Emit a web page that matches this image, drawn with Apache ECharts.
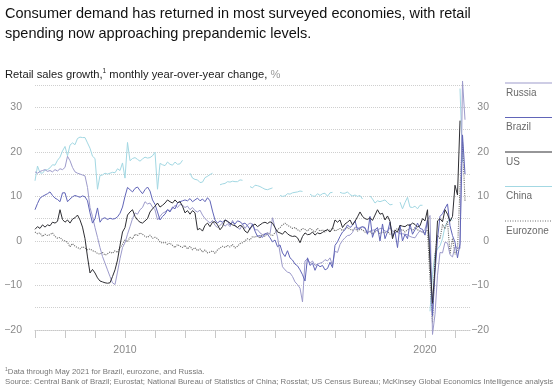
<!DOCTYPE html>
<html>
<head>
<meta charset="utf-8">
<script src="https://cdn.jsdelivr.net/npm/echarts@6/dist/echarts.min.js"></script>
<style>
  html, body { margin: 0; padding: 0; background: #fff; }
  #chart { width: 560px; height: 392px; }
</style>
</head>
<body>
<div id="chart"></div>
<script>
// ---- Data (monthly, starting Jan 2007) ----
const startYear = 2007;
const yearTicks = [2007, 2008, 2009, 2010, 2011, 2012, 2013, 2014, 2015, 2016, 2017, 2018, 2019, 2020, 2021];
const yearLabels = [2010, 2020];
const valueLabels = [-20, -10, 0, 10, 20, 30];

const seriesNames = ['Russia', 'Brazil', 'US', 'China', 'Eurozone'];

const russia = [
  15.5, 15.2, 15.6, 15.8, 16.0, 15.6, 15.8, 15.5, 16.0, 15.7, 16.2, 16.0,
  16.5, 19.0, 18.0, 16.5, 15.5, 15.2, 15.0, 14.8, 14.6, 12.0, 7.5, 5.5,
  3.0, 0.8, -1.5, -3.5, -5.0, -6.5, -8.0, -9.4, -9.8, -7.0, -4.0, -1.5,
  -0.4, 1.5, 3.2, 5.0, 6.3, 6.0, 7.0, 7.5, 8.8, 8.3, 8.5, 7.6,
  7.0, 4.7, 5.5, 6.2, 6.5, 7.0, 6.8, 7.2, 8.0, 7.5, 8.2, 8.0,
  7.5, 7.8, 7.0, 7.5, 6.8, 6.5, 6.9, 5.8, 5.0, 4.5, 4.0, 4.6,
  3.5, 3.0, 3.5, 4.0, 3.3, 3.8, 3.2, 4.6, 3.5, 3.0, 2.6, 3.8,
  2.8, 3.6, 4.0, 3.8, 2.5, 2.5, 1.8, 1.4, 1.6, 1.8, 1.6, 5.2,
  3.0, 0.9, -2.7, -5.8, -6.5, -7.0, -7.2, -8.0, -9.2, -9.8, -10.6, -13.7,
  -4.5, -4.0, -5.0, -4.5, -5.5, -5.2, -5.0, -4.8, -4.2, -4.5, -3.8, -5.5,
  -2.3, -2.6, -0.8, 0.1, 0.7, 1.2, 1.3, 1.9, 3.1, 3.0, 2.7, 3.1,
  2.8, 1.8, 2.2, 2.4, 2.5, 2.3, 2.8, 2.8, 2.2, 2.1, 3.0, 2.3,
  1.9, 2.0, 1.6, 1.6, 1.5, 1.4, 1.0, 0.8, 0.7, 1.6, 2.3, 1.9,
  2.6, 4.7, 5.7, -21.0, -16.5, -7.7, -2.6, -2.7, -0.3, -0.5, -3.1, -3.6,
  -1.3, -1.5, -1.7, 35.9, 27.2
];

const brazil = [
  7.0, 8.4, 9.6, 10.0, 10.3, 10.6, 11.0, 10.2, 9.6, 9.3, 8.8, 10.8,
  10.8, 8.8, 9.4, 9.9, 10.2, 10.0, 9.8, 10.1, 9.9, 9.0, 6.3, 4.0,
  5.0, 7.4, 4.2, 5.0, 5.2, 4.8, 5.1, 4.9, 5.0, 5.4, 6.2, 7.6,
  10.0, 12.0, 11.5, 11.0, 11.8, 12.1, 11.3, 10.6, 11.5, 12.1, 11.2, 9.2,
  8.2, 6.5, 4.7, 5.5, 6.0, 7.0, 6.5, 7.6, 7.2, 8.5, 8.8, 9.0,
  9.2, 9.0, 9.5, 8.8, 9.2, 9.6, 9.0, 9.4, 8.8, 9.7, 9.0, 6.7,
  4.7, 4.0, 4.5, 4.2, 4.7, 4.4, 3.6, 4.2, 3.8, 4.5, 4.3, 3.8,
  4.0, 3.4, 2.6, 3.8, 2.2, 1.0, 1.2, 0.8, 1.6, 1.5, 0.7, -0.2,
  0.2, -1.3, -0.9, -2.7, -3.5, -2.2, -3.8, -4.3, -5.2, -5.6, -6.5, -7.6,
  -9.0, -3.8, -5.5, -5.0, -6.6, -5.3, -5.8, -5.5, -6.5, -6.2, -4.8, -6.0,
  -1.0, -0.2, 1.0, 2.0, 2.5, 3.6, 3.0, 3.5, 4.5, 2.5, 3.0, 3.2,
  3.0, 1.5, 5.5, 0.8, 2.5, 3.0, 0.0, 3.8, 0.5, 2.0, 4.2, 1.0,
  2.0, -1.5, 3.5, 0.0, 1.5, 0.5, 3.8, 1.5, 2.5, 4.0, 2.8, 2.6,
  1.3, 4.7, -1.2, -16.8, -7.2, 0.5, 5.5, 6.1, 7.3, 8.3, 3.4, 1.2,
  -0.3, -3.8, -0.6, 23.8, 15.0
];

const us = [
  2.6, 3.2, 2.8, 3.6, 3.1, 3.6, 3.4, 4.2, 4.0, 4.4, 7.0, 4.8,
  4.2, 4.7, 4.0, 4.9, 5.2, 5.8, 4.7, 3.1, 0.5, -3.6, -7.2, -6.4,
  -7.2, -8.3, -9.0, -9.2, -9.4, -9.5, -9.4, -8.0, -6.5, -4.3, -1.0, 2.0,
  3.0, 5.8, 6.5, 7.0, 5.5, 4.7, 4.2, 4.0, 4.5, 5.0, 6.5, 7.2,
  7.8, 8.5, 7.6, 8.0, 8.5, 9.2, 8.8, 8.5, 9.2, 8.6, 8.8, 7.8,
  6.3, 6.8, 6.0, 6.8, 6.3, 2.5, 2.8, 2.2, 3.5, 4.0, 3.2, 4.2,
  4.3, 3.6, 2.5, 3.2, 4.7, 4.4, 4.0, 3.6, 3.4, 3.0, 3.5, 3.2,
  2.2, 1.8, 2.8, 3.4, 3.8, 3.2, 3.6, 4.0, 4.2, 3.9, 4.3, 4.0,
  3.0, 2.0, 1.8, 1.5, 2.2, 1.6, 1.2, 1.0, 1.1, 0.7, -0.4, 1.0,
  1.8, 1.4, 1.5, 2.0, 1.3, 1.8, 1.6, 1.9, 2.3, 2.5, 2.0, 2.8,
  4.7, 4.2, 4.7, 3.0, 3.8, 4.2, 4.7, 3.6, 4.4, 5.4, 6.5, 5.5,
  5.0, 4.8, 5.2, 4.6, 5.8, 7.0, 6.0, 6.2, 4.7, 5.6, 4.4, 0.5,
  2.4, 2.0, 3.5, 3.3, 3.2, 3.6, 3.5, 4.0, 3.7, 3.1, 3.4, 5.0,
  4.5, 7.0, -5.0, -14.0, -6.0, 4.5, 5.0, 4.3, 7.0, 6.0, 4.4, 5.5,
  12.5, 10.3, 27.0
];

const china = [
  13.5, 16.8, 15.3, 15.2, 15.9, 16.0, 16.4, 17.1, 17.0, 18.1, 18.8, 20.2,
  21.2, 19.1, 21.5, 22.0, 21.6, 23.0, 23.3, 23.2, 23.2, 22.0, 20.8, 19.0,
  18.5, 11.6, 14.7, 14.8, 15.2, 15.0, 15.2, 15.4, 15.3, 16.2, 15.8, 17.5,
  14.1, 22.1, 18.0, 18.5, 18.7, 18.3, 17.9, 18.4, 18.8, 18.6, 18.7, 19.1,
  19.9, 11.6, 17.4, 17.1, 16.9, 17.7, 17.2, 17.0, 17.7, 17.2, 17.3, 18.1,
  null, null, 15.2, 14.1, 13.8, 13.7, 13.1, 13.2, 14.2, 14.5, 14.9, 15.2,
  null, null, 12.6, 12.8, 12.9, 13.3, 13.2, 13.4, 13.3, 13.3, 13.7, 13.6,
  null, null, 12.2, 11.9, 12.5, 12.4, 12.2, 11.9, 11.6, 11.5, 11.7, 11.9,
  null, null, 10.2, 10.0, 10.1, 10.6, 10.5, 10.8, 10.9, 11.0, 11.2, 11.1,
  null, null, 10.5, 10.1, 10.0, 10.6, 10.2, 10.6, 10.7, 10.0, 10.8, 10.9,
  null, null, 10.9, 10.7, 10.7, 11.0, 10.4, 10.1, 10.3, 10.0, 10.2, 9.4,
  null, null, 10.1, 9.4, 8.5, 9.0, 8.8, 9.0, 9.2, 8.6, 8.1, 8.2,
  null, null, 8.7, 7.2, 8.6, 9.8, 7.6, 7.5, 7.8, 7.2, 8.0, 8.0,
  null, null, -15.8, -7.5, -2.8, -1.8, -1.1, 0.5, 3.3, 4.3, 5.0, 4.6,
  null, null, 34.2, 17.7
];

const eurozone = [
  2.0, 1.6, 1.8, 1.0, 1.5, 1.2, 1.4, 1.8, 1.0, 0.6, 0.8, 0.2,
  0.0, -0.3, -1.3, -0.6, -1.2, -1.5, -1.8, -1.3, -1.6, -2.0, -1.8, -2.2,
  -2.4, -2.8, -3.0, -2.6, -3.2, -2.9, -2.5, -2.8, -2.2, -2.6, -1.5, -0.8,
  0.2, -0.2, 0.8, 0.5, 1.5, 1.2, 1.8, 1.5, 1.0, 0.8, 1.3, 0.6,
  0.8, 0.5, -0.2, -0.5, -0.3, -0.8, -0.5, -1.0, -1.5, -0.8, -1.2, -1.5,
  -1.0, -1.8, -1.2, -2.0, -1.5, -2.2, -1.8, -2.5, -2.0, -2.7, -2.5, -2.2,
  -2.8, -2.0, -1.6, -1.2, -1.5, -1.0, -1.4, -0.8, -1.6, -1.2, -0.6, -0.4,
  0.0, 0.5, 0.2, 1.0, 0.8, 1.2, 0.6, 1.5, 1.0, 1.8, 1.4, 1.2,
  1.8, 2.5, 3.0, 3.6, 4.0, 3.5, 3.2, 2.8, 3.0, 2.5, 2.2, 2.8,
  2.6, 2.2, 2.8, 2.4, 2.0, 2.8, 2.2, 2.5, 2.0, 2.6, 2.4, 2.9,
  2.2, 2.5, 2.8, 2.3, 2.7, 3.0, 2.6, 2.4, 2.8, 2.2, 2.6, 2.5,
  2.0, 1.8, 2.2, 1.5, 2.0, 2.4, 1.6, 2.0, 1.8, 2.2, 1.5, 2.0,
  2.4, 2.8, 2.2, 2.6, 2.0, 2.5, 2.8, 2.3, 3.0, 2.5, 2.2, 2.0,
  1.7, 2.5, -8.8, -18.5, -3.1, 1.3, 0.4, 3.7, 2.7, 4.5, -2.9, 0.6,
  -3.0, -2.0, 12.0, 22.5, 9.0
];

// ---- Styles ----
const colors = {
  Russia: '#9d9bcb',
  Brazil: '#6165b8',
  US: '#2e2e33',
  China: '#a3d8e3',
  Eurozone: '#6e6e6e'
};
const FONT = '"Liberation Sans", Arial, sans-serif';

function toPairs(arr) {
  return arr.map((v, i) => [startYear + i / 12, v]);
}

const valuesByName = { Russia: russia, Brazil: brazil, US: us, China: china, Eurozone: eurozone };
const drawOrder = ['China', 'Eurozone', 'Russia', 'Brazil', 'US'];

const series = drawOrder.map(name => ({
  name: name,
  type: 'line',
  data: toPairs(valuesByName[name]),
  showSymbol: false,
  symbol: 'none',
  clip: false,
  connectNulls: false,
  animation: false,
  lineStyle: {
    color: colors[name],
    width: name === 'Eurozone' ? 1.1 : 1,
    type: name === 'Eurozone' ? 'dotted' : 'solid'
  },
  itemStyle: { color: colors[name] }
}));

// legend built as graphic (line above label)
const legendTop = 83, legendStep = 34.5;
const legendGraphics = [];
seriesNames.forEach((name, k) => {
  const y = legendTop + k * legendStep;
  legendGraphics.push({
    type: 'line',
    shape: { x1: 505, y1: y, x2: 552, y2: y },
    style: {
      stroke: colors[name],
      lineWidth: name === 'Eurozone' ? 1 : 1.2,
      lineDash: name === 'Eurozone' ? [1, 1.5] : null
    }
  });
  legendGraphics.push({
    type: 'text',
    x: 506, y: y + 5,
    style: { text: name, fill: '#6a6a6a', font: '10px ' + FONT }
  });
});

const minus = v => (v < 0 ? '\u2212' + Math.abs(v) : String(v));

const yAxisCommon = {
  type: 'value',
  min: -20, max: 35, interval: 5,
  axisLine: { show: false },
  axisTick: { show: false }
};

const option = {
  animation: false,
  backgroundColor: '#ffffff',
  textStyle: { fontFamily: FONT },
  title: [
    {
      text: 'Consumer demand has returned in most surveyed economies, with retail\nspending now approaching prepandemic levels.',
      left: 0, top: -1,
      textStyle: { fontSize: 14.5, fontWeight: 'normal', color: '#111', lineHeight: 20, fontFamily: FONT }
    },
    {
      text: '{a|Retail sales growth,}{s|1}{a| monthly year-over-year change, }{p|%}',
      left: 0, top: 63,
      textStyle: {
        fontWeight: 'normal',
        rich: {
          a: { fontSize: 11.2, color: '#1a1a1a', fontWeight: 'normal', fontFamily: FONT },
          s: { fontSize: 6.5, color: '#1a1a1a', fontWeight: 'normal', verticalAlign: 'top', padding: [0, 0, 6, 0], fontFamily: FONT },
          p: { fontSize: 11.2, color: '#9a9a9a', fontWeight: 'normal', fontFamily: FONT }
        }
      }
    },
    {
      text: '{s|1}{a|Data through May 2021 for Brazil, eurozone, and Russia.}\n{a|Source: Central Bank of Brazil; Eurostat; National Bureau of Statistics of China; Rosstat; US Census Bureau; McKinsey Global Economics Intelligence analysis}',
      left: 0, top: 362,
      textStyle: {
        fontWeight: 'normal',
        lineHeight: 10,
        rich: {
          a: { fontSize: 7.8, color: '#777', fontWeight: 'normal', fontFamily: FONT, lineHeight: 10 },
          s: { fontSize: 5, color: '#777', fontWeight: 'normal', verticalAlign: 'top', fontFamily: FONT, lineHeight: 10 }
        }
      }
    }
  ],
  grid: { left: 35, right: 90, top: 85, bottom: 62, containLabel: false },
  xAxis: {
    type: 'value',
    min: 2007, max: 2021.5, interval: 1,
    axisLine: { show: true, onZero: false, lineStyle: { color: '#c8c8c8', type: 'dotted', width: 1 } },
    axisTick: { show: true, customValues: yearTicks, length: 8, lineStyle: { color: '#c8c8c8', width: 1 } },
    axisLabel: {
      customValues: yearLabels, margin: 15, color: '#8a8a8a', fontSize: 10.5, fontFamily: FONT,
      formatter: v => String(Math.round(v))
    },
    splitLine: { show: false }
  },
  yAxis: [
    Object.assign({}, yAxisCommon, {
      position: 'left',
      axisLabel: { customValues: valueLabels, color: '#8a8a8a', fontSize: 10.5, margin: 13, fontFamily: FONT, formatter: minus },
      splitLine: { show: true, lineStyle: { color: '#cfcfcf', type: 'dotted', width: 1 } }
    }),
    Object.assign({}, yAxisCommon, {
      position: 'right',
      axisLabel: { customValues: valueLabels, color: '#8a8a8a', fontSize: 10.5, margin: 19, align: 'right', fontFamily: FONT, formatter: minus },
      splitLine: { show: false }
    })
  ],
  series: series,
  graphic: legendGraphics
};

const chart = echarts.init(document.getElementById('chart'), null, { renderer: 'canvas' });
chart.setOption(option);
</script>
</body>
</html>
